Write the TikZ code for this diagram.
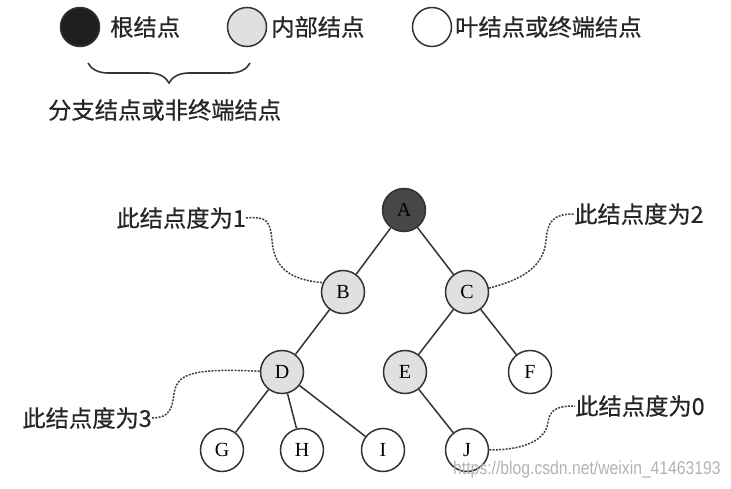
\documentclass[tikz,border=0pt]{standalone}
\usepackage{fontspec}
\setmainfont{Liberation Serif}
\newfontfamily\cjk[FakeBold=0.6]{Noto Sans CJK SC}
\newfontfamily\wmfont[FakeStretch=0.85]{Liberation Sans}
\usetikzlibrary{decorations.pathreplacing}
\begin{document}
\begin{tikzpicture}[x=1pt,y=-1pt,
  tnode/.style={circle,draw=black!80,line width=1.5pt,minimum size=43pt,inner sep=0pt,font=\fontsize{20}{20}\selectfont},
  rootn/.style={tnode,fill=black!72},
  innern/.style={tnode,fill=black!12},
  leafn/.style={tnode,fill=white},
  keyn/.style={circle,draw=black!80,line width=1.5pt,minimum size=39pt,inner sep=0pt},
  lbl/.style={font=\cjk\fontsize{23.3}{23.3}\selectfont,inner sep=0pt,text=black!85},
  edge/.style={line width=1.5pt,draw=black!80},
  note/.style={line width=1.5pt,draw=black!75,dash pattern=on 2pt off 1.3pt}]
\useasboundingbox (0,0) rectangle (731,489);
% legend
\node[keyn,fill=black!88] (k1) at (80,27) {};
\node[lbl,anchor=west] (k1t) at (110,27) {根结点};
\node[keyn,fill=black!12] (k2) at (247,27) {};
\node[lbl,anchor=west] (k2t) at (271,27) {内部结点};
\node[keyn,fill=white] (k3) at (432,27) {};
\node[lbl,anchor=west] (k3t) at (455,27) {叶结点或终端结点};
\coordinate (b1) at (88,63);
\coordinate (b2) at (250,63);
\draw[line width=1.6pt,black!80,decorate,decoration={brace,mirror,amplitude=20pt}] (b1) -- (b2);
\node[lbl,anchor=west] (kb) at (48,110) {分支结点或非终端结点};
% tree
\node[rootn] (A) at (404,210) {A};
\node[innern] (B) at (343,292) {B};
\node[innern] (C) at (467,292) {C};
\node[innern] (D) at (282,372) {D};
\node[innern] (E) at (405,372) {E};
\node[leafn] (F) at (530,372) {F};
\node[leafn] (G) at (222,450) {G};
\node[leafn] (H) at (302,450) {H};
\node[leafn] (I) at (383,450) {I};
\node[leafn] (J) at (467,450) {J};
\draw[edge] (A) -- (B);
\draw[edge] (A) -- (C);
\draw[edge] (B) -- (D);
\draw[edge] (C) -- (E);
\draw[edge] (C) -- (F);
\draw[edge] (D) -- (G);
\draw[edge] (D) -- (H);
\draw[edge] (D) -- (I);
\draw[edge] (E) -- (J);
% notes
\node[lbl,anchor=east] (t1) at (246,218) {此结点度为1};
\node[lbl,anchor=west] (t2) at (574,214) {此结点度为2};
\node[lbl,anchor=east] (t3) at (152,418) {此结点度为3};
\node[lbl,anchor=west] (t4) at (575,406) {此结点度为0};
\draw[note] (t1.east) .. controls (268,216) and (270,222) .. (272,240) .. controls (274,268) and (290,280) .. (B.155);
\draw[note] (C.10) .. controls (520,280) and (544,268) .. (546,240) .. controls (548,222) and (552,214) .. (t2.west);
\draw[note] (t3.east) .. controls (170,418) and (172,408) .. (174,394) .. controls (177,374) and (190,368) .. (D.178);
\draw[note] (J.east) .. controls (525,450) and (546,440) .. (548,422) .. controls (550,410) and (556,406) .. (t4.west);
% watermark
\node[anchor=west,inner sep=0pt,font=\wmfont\fontsize{18.5}{18.5}\selectfont,text=black!30] (wm) at (453,470) {https://blog.csdn.net/weixin\_41463193};
\end{tikzpicture}
\end{document}
